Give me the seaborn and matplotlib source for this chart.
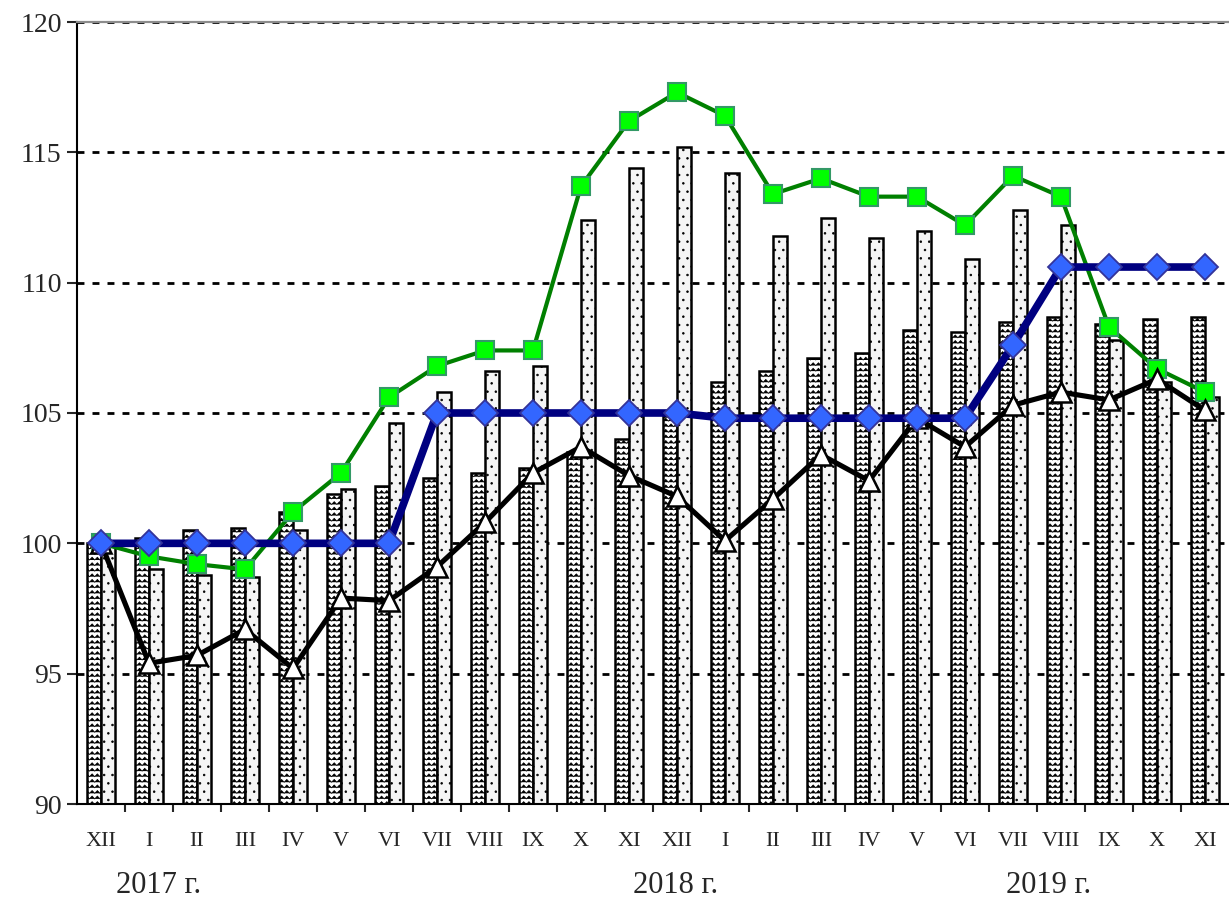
import numpy as np
import pandas as pd
import seaborn as sns
import matplotlib.pyplot as plt
import matplotlib.hatch as mhatch
import matplotlib.transforms as mtransforms
from matplotlib.path import Path

# --- данные ---
months = ['XII', 'I', 'II', 'III', 'IV', 'V', 'VI', 'VII', 'VIII', 'IX', 'X', 'XI',
          'XII', 'I', 'II', 'III', 'IV', 'V', 'VI', 'VII', 'VIII', 'IX', 'X', 'XI']
years = ['2017'] + ['2018'] * 12 + ['2019'] * 11
keys = [m + '.' + y for m, y in zip(months, years)]

bars_wave = [100.0, 100.2, 100.5, 100.6, 101.2, 101.9, 102.2, 102.5, 102.7, 102.9, 103.5, 104.0,
             104.9, 106.2, 106.6, 107.1, 107.3, 108.2, 108.1, 108.5, 108.7, 108.4, 108.6, 108.7]
bars_dots = [100.0, 99.0, 98.8, 98.7, 100.5, 102.1, 104.6, 105.8, 106.6, 106.8, 112.4, 114.4,
             115.2, 114.2, 111.8, 112.5, 111.7, 112.0, 110.9, 112.8, 112.2, 107.8, 106.2, 105.6]
line_green = [100.0, 99.5, 99.2, 99.0, 101.2, 102.7, 105.6, 106.8, 107.4, 107.4, 113.7, 116.2,
              117.3, 116.4, 113.4, 114.0, 113.3, 113.3, 112.2, 114.1, 113.3, 108.3, 106.7, 105.8]
line_blue = [100.0, 100.0, 100.0, 100.0, 100.0, 100.0, 100.0, 105.0, 105.0, 105.0, 105.0, 105.0,
             105.0, 104.8, 104.8, 104.8, 104.8, 104.8, 104.8, 107.6, 110.6, 110.6, 110.6, 110.6]
line_black = [100.0, 95.4, 95.7, 96.7, 95.2, 97.9, 97.8, 99.1, 100.8, 102.7, 103.7, 102.6,
              101.8, 100.1, 101.7, 103.4, 102.4, 104.8, 103.7, 105.3, 105.8, 105.5, 106.3, 105.1]

year_labels = ['2017 г.', '2018 г.', '2019 г.']
year_label_x = [1.19, 11.96, 19.75]


# волнистая штриховка (заменяет 'O')
class ZigZagHatch(mhatch.HatchPatternBase):
    def __init__(self, hatch, density):
        self.num_rows = int(hatch.count('O') * density)
        self.num_teeth = int(self.num_rows * 1.1)
        self.num_vertices = self.num_rows * (2 * self.num_teeth + 1)

    def set_vertices_and_codes(self, vertices, codes):
        n = 2 * self.num_teeth + 1
        xs = np.linspace(0, 1, n)
        amp = 0.5 / self.num_rows
        for r in range(self.num_rows):
            y0 = (r + 0.2) / self.num_rows
            vertices[r * n:(r + 1) * n, 0] = xs
            vertices[r * n:(r + 1) * n, 1] = y0 + amp * (np.arange(n) % 2)
            codes[r * n] = Path.MOVETO
            codes[r * n + 1:(r + 1) * n] = Path.LINETO


mhatch._hatch_types[mhatch._hatch_types.index(mhatch.LargeCircles)] = ZigZagHatch

sns.set_theme(style='white')
plt.rcParams['font.family'] = ['Liberation Serif', 'DejaVu Serif']
plt.rcParams['hatch.linewidth'] = 0.55

df = pd.DataFrame({
    'key': keys * 2,
    'series': ['wave'] * 24 + ['dots'] * 24,
    'value': bars_wave + bars_dots,
})

fig = plt.figure(figsize=(12.29, 8.99), dpi=100)
ax = fig.add_axes([77 / 1229, 95 / 899, 1152 / 1229, 782 / 899])

sns.barplot(data=df, x='key', y='value', hue='series', order=keys,
            hue_order=['wave', 'dots'], palette={'wave': 'white', 'dots': '#f5f5f5'},
            width=0.6, gap=0, errorbar=None, edgecolor='black', linewidth=1.8,
            legend=False, ax=ax)
for bar in ax.containers[0]:
    bar.set_hatch('OOO')
for bar in ax.containers[1]:
    bar.set_hatch('..')

# линии
sns.pointplot(x=keys, y=line_green, order=keys, errorbar=None, color='#008000',
              marker='s', markersize=13.5, linewidth=3, markerfacecolor='#00ff00',
              markeredgecolor='#339966', markeredgewidth=1.5, zorder=4, ax=ax)
sns.pointplot(x=keys, y=line_black, order=keys, errorbar=None, color='black',
              marker='^', markersize=15, linewidth=3.7, markerfacecolor='white',
              markeredgecolor='black', markeredgewidth=1.8, zorder=5, ax=ax)
sns.pointplot(x=keys, y=line_blue, order=keys, errorbar=None, color='#000080',
              marker='D', markersize=13.5, linewidth=5.5, markerfacecolor='#3366ff',
              markeredgecolor='#333399', markeredgewidth=1.3, zorder=6, ax=ax)

# оси
ax.set_xlim(-0.5, 23.5)
ax.set_ylim(90, 120)
ax.set_yticks(np.arange(90, 121, 5))
ax.tick_params(axis='y', labelsize=20, direction='out', length=7, width=1.5, left=True, pad=4)

ax.set_xticks(np.arange(0.5, 23.5, 1.0))
ax.set_xticklabels([])
ax.tick_params(axis='x', which='major', direction='out', length=6, width=1.5, bottom=True)
ax.set_xticks(np.arange(24), labels=months, minor=True)
ax.tick_params(axis='x', which='minor', length=0, labelsize=16, pad=20)
ax.set_xlabel('')
ax.set_ylabel('')

ax.set_axisbelow(True)
ax.grid(False)
ax.yaxis.grid(True, color='black', linewidth=2, linestyle=(0, (2.5, 2.9)))

for side in ['left', 'bottom']:
    ax.spines[side].set_color('black')
    ax.spines[side].set_linewidth(1.5)
ax.spines['top'].set_color('#8c8c8c')
ax.spines['top'].set_linewidth(1.6)
ax.spines['right'].set_visible(False)

trans = mtransforms.blended_transform_factory(ax.transData, ax.transAxes)
for x, txt in zip(year_label_x, year_labels):
    ax.text(x, -0.104, txt, transform=trans, ha='center', va='center', fontsize=22)

fig.savefig('out.png', dpi=100)
